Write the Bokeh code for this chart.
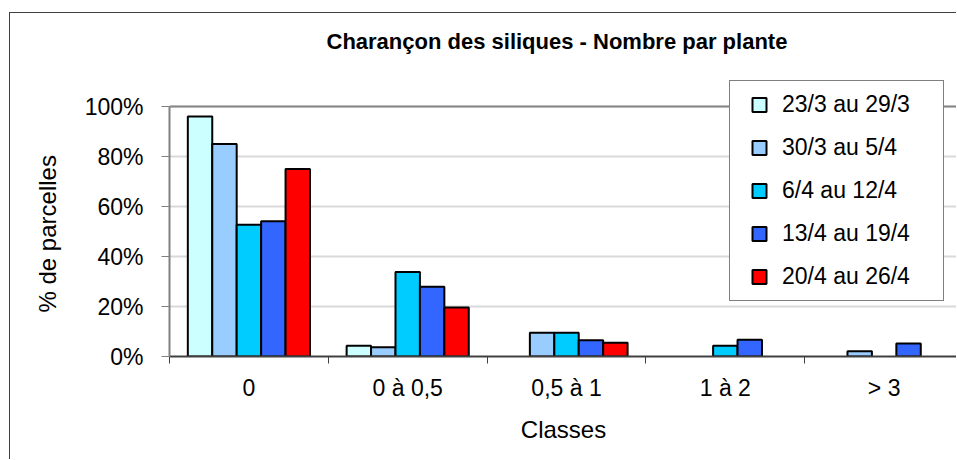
import numpy as np
from bokeh.plotting import figure
from bokeh.models import (Range1d, FixedTicker, PrintfTickFormatter, Legend, LegendItem, Span, Title)
from bokeh.embed import file_html
from bokeh.resources import INLINE

# ---- data ----
categories = ["0", "0 à 0,5", "0,5 à 1", "1 à 2", "> 3"]
series_names = ["23/3 au 29/3", "30/3 au 5/4", "6/4 au 12/4", "13/4 au 19/4", "20/4 au 26/4"]
s_23_3 = [96.0, 4.3, 0.0, 0.0, 0.0]
s_30_3 = [85.0, 3.7, 9.5, 0.0, 2.1]
s_6_4 = [52.7, 33.8, 9.5, 4.3, 0.0]
s_13_4 = [54.1, 27.9, 6.5, 6.7, 5.2]
s_20_4 = [75.0, 19.6, 5.5, 0.0, 0.0]
series_values = [s_23_3, s_30_3, s_6_4, s_13_4, s_20_4]
colors = ["#CCFFFF", "#99CCFF", "#00CCFF", "#3366FF", "#FF0000"]
y_ticks = [0, 20, 40, 60, 80, 100]

FONT = "Liberation Sans"

p = figure(width=947, height=447,
           x_range=Range1d(0, 4.962), y_range=Range1d(0, 116),
           output_backend="svg", toolbar_location=None,
           min_border_left=158, min_border_top=53, min_border_bottom=104, min_border_right=0,
           title="Charançon des siliques - Nombre par plante")
p.styles = {"margin-left": "9px", "margin-top": "12px",
            "border-left": "1px solid #404040", "border-top": "1px solid #404040"}
p.outline_line_color = None
p.background_fill_color = "white"
p.border_fill_color = "white"

p.title.text_font = FONT
p.title.text_font_size = "22px"
p.title.text_font_style = "bold"
p.title.align = "left"
p.title.offset = 157
p.title.text_color = "black"
p.title.standoff = 26

# y axis title, placed as a side title so it can sit along the 0-100% span
ytitle = Title(text="% de parcelles", align="left", offset=44, standoff=42,
               text_font=FONT, text_font_size="24px", text_font_style="normal",
               text_color="black")
p.add_layout(ytitle, "left")

# bars
bar_w = 1.0 / 6.5
offset = 0.75 / 6.5
legend_items = []
for k, (name, vals, col) in enumerate(zip(series_names, series_values, colors)):
    xs = [i + offset + (k + 0.5) * bar_w for i, v in enumerate(vals) if v > 0]
    tops = [v for v in vals if v > 0]
    p.vbar(x=xs, top=tops, bottom=0, width=bar_w, fill_color=col,
           line_color="black", line_width=2)
    # legend-only marker (NaN point: never drawn in the plot area)
    lr = p.scatter(x=np.array([np.nan]), y=np.array([np.nan]), marker="square", size=14,
                   fill_color=col, line_color="black", line_width=2)
    legend_items.append(LegendItem(label=name, renderers=[lr]))

# axes
centers = [i + 0.5 for i in range(len(categories))]
xax = p.xaxis[0]
xax.ticker = FixedTicker(ticks=centers, minor_ticks=[0, 1, 2, 3, 4, 5])
xax.major_label_overrides = {c: lab for c, lab in zip(centers, categories)}
xax.major_tick_line_color = None
xax.major_tick_out = 0
xax.major_tick_in = 0
xax.minor_tick_line_color = "#404040"
xax.minor_tick_out = 7
xax.minor_tick_in = 0
xax.axis_line_color = "#404040"
xax.axis_line_width = 2
xax.major_label_text_font = FONT
xax.major_label_text_font_size = "23px"
xax.major_label_text_color = "black"
xax.major_label_standoff = 11
xax.axis_label = "Classes"
xax.axis_label_text_font = FONT
xax.axis_label_text_font_size = "24px"
xax.axis_label_text_font_style = "normal"
xax.axis_label_text_color = "black"
xax.axis_label_standoff = 12

yax = p.yaxis[0]
yax.ticker = FixedTicker(ticks=y_ticks)
yax.bounds = (y_ticks[0], y_ticks[-1])
yax.formatter = PrintfTickFormatter(format="%d%%")
yax.major_tick_out = 8
yax.major_tick_in = 0
yax.major_tick_line_color = "#808080"
yax.minor_tick_line_color = None
yax.axis_line_color = "#808080"
yax.axis_line_width = 2
yax.major_label_text_font = FONT
yax.major_label_text_font_size = "23px"
yax.major_label_text_color = "black"
yax.major_label_standoff = 18

p.xgrid.visible = False
p.ygrid.ticker = FixedTicker(ticks=y_ticks)
p.ygrid.grid_line_color = "#d9d9d9"
p.ygrid.grid_line_width = 2
p.add_layout(Span(location=y_ticks[-1], dimension="width", line_color="#868686", line_width=2))

legend = Legend(items=legend_items, location=(560, 55), margin=0,
                padding=6, spacing=8, glyph_width=46, glyph_height=35,
                label_standoff=0, label_width=155,
                label_text_font=FONT, label_text_font_size="23px", label_text_color="black",
                border_line_color="black", border_line_width=1,
                background_fill_color="white", background_fill_alpha=1.0)
p.add_layout(legend)

open("out.html", "w").write(file_html(p, INLINE))
